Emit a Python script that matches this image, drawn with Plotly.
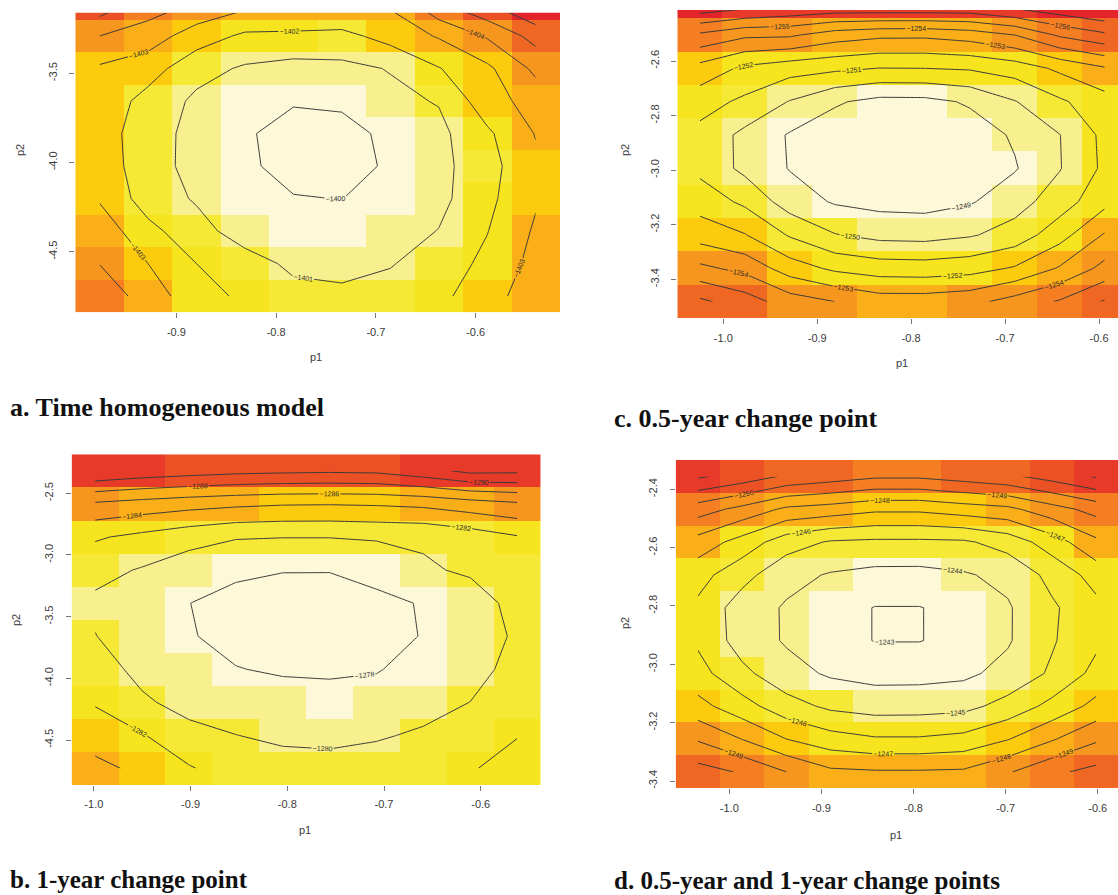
import plotly.graph_objects as go

W, H = 1118, 895

# R heat.colors(12) as they appear in the scanned figure (low -> high)
heat_cols = ["#E3242B", "#E83A28", "#EC5025", "#F06723", "#F47E21", "#F7961E",
             "#FAAF18", "#FDCB0E", "#F6E41E", "#F5E935", "#F8F08E", "#FCF8D8"]

# ---------------- panel a : time homogeneous model ----------------
a_p1 = [-0.9771, -0.9285, -0.8799, -0.8313, -0.7827, -0.7341, -0.6855, -0.6369, -0.5883, -0.5397]
a_p2 = [-4.7486, -4.5664, -4.3842, -4.2020, -4.0199, -3.8377, -3.6555, -3.4733, -3.2911, -3.1090]
a_z = [
    [-1404.60, -1403.58, -1402.35, -1401.83, -1401.30, -1401.20, -1401.40, -1401.75, -1402.61, -1403.54],
    [-1403.98, -1403.00, -1402.00, -1401.41, -1400.80, -1400.70, -1400.93, -1401.51, -1402.22, -1403.33],
    [-1403.60, -1402.30, -1401.36, -1400.54, -1400.30, -1400.30, -1400.55, -1401.03, -1401.97, -1403.13],
    [-1402.90, -1401.52, -1400.90, -1400.25, -1400.03, -1399.99, -1400.28, -1400.72, -1401.75, -1402.90],
    [-1402.55, -1401.45, -1400.65, -1400.10, -1399.80, -1399.75, -1400.09, -1400.70, -1401.64, -1402.80],
    [-1402.50, -1401.41, -1400.70, -1400.07, -1399.78, -1399.75, -1400.17, -1400.74, -1401.83, -1403.05],
    [-1402.65, -1401.65, -1400.81, -1400.25, -1400.05, -1400.13, -1400.77, -1401.06, -1402.58, -1403.40],
    [-1402.86, -1402.44, -1401.34, -1400.88, -1400.66, -1400.75, -1401.05, -1401.95, -1402.79, -1404.23],
    [-1404.00, -1403.50, -1402.50, -1401.82, -1401.80, -1401.70, -1402.38, -1403.09, -1404.11, -1405.36],
    [-1405.67, -1404.56, -1403.89, -1403.30, -1403.13, -1403.20, -1403.15, -1404.90, -1405.96, -1407.20],
]

# ---------------- panel b : 1-year change point ----------------
b_p1 = [-0.9987, -0.9502, -0.9017, -0.8532, -0.8047, -0.7562, -0.7077, -0.6592, -0.6107, -0.5622]
b_p2 = [-4.7308, -4.4627, -4.1946, -3.9265, -3.6584, -3.3903, -3.1222, -2.8541, -2.5860, -2.3179]
b_z = [
    [-1284.60, -1283.50, -1282.18, -1281.00, -1280.81, -1280.86, -1280.90, -1281.20, -1281.90, -1282.50],
    [-1283.00, -1282.15, -1280.55, -1280.03, -1279.60, -1279.40, -1279.80, -1280.27, -1281.20, -1281.95],
    [-1281.85, -1280.27, -1279.40, -1278.90, -1278.71, -1278.58, -1278.65, -1279.30, -1280.02, -1281.10],
    [-1280.80, -1279.50, -1278.90, -1278.06, -1277.80, -1277.75, -1277.90, -1278.58, -1279.30, -1280.65],
    [-1280.05, -1278.90, -1278.12, -1277.50, -1277.35, -1277.30, -1277.55, -1278.06, -1279.00, -1280.27],
    [-1279.63, -1278.90, -1278.02, -1277.50, -1277.45, -1277.40, -1277.60, -1278.11, -1279.00, -1280.67],
    [-1280.59, -1279.85, -1278.92, -1278.30, -1278.05, -1278.05, -1278.55, -1279.73, -1280.30, -1281.00],
    [-1282.23, -1281.50, -1280.75, -1280.14, -1280.05, -1280.05, -1280.20, -1280.28, -1280.93, -1281.85],
    [-1285.70, -1285.20, -1284.75, -1284.40, -1284.15, -1284.10, -1284.20, -1284.45, -1285.10, -1285.70],
    [-1291.90, -1291.30, -1290.90, -1290.56, -1290.40, -1290.30, -1290.40, -1291.30, -1292.50, -1292.40],
]

# ---------------- panel c : 0.5-year change point ----------------
c_p1 = [-1.0250, -0.9771, -0.9292, -0.8813, -0.8334, -0.7855, -0.7376, -0.6897, -0.6418, -0.5939]
c_p2 = [-3.4818, -3.3597, -3.2375, -3.1154, -2.9932, -2.8711, -2.7490, -2.6268, -2.5047, -2.3825]
c_z = [
    [-1256.20, -1255.50, -1254.50, -1254.00, -1253.50, -1253.50, -1253.70, -1254.40, -1255.10, -1256.10],
    [-1254.23, -1253.70, -1252.50, -1251.80, -1251.50, -1251.45, -1251.60, -1252.10, -1253.10, -1254.30],
    [-1252.56, -1252.05, -1250.90, -1250.05, -1249.70, -1249.65, -1249.90, -1250.40, -1251.60, -1253.10],
    [-1251.57, -1250.80, -1249.50, -1248.90, -1248.70, -1248.65, -1248.90, -1249.60, -1250.50, -1251.70],
    [-1250.75, -1249.75, -1248.95, -1248.40, -1248.25, -1248.22, -1248.45, -1248.92, -1249.95, -1251.20],
    [-1250.70, -1249.75, -1248.91, -1248.45, -1248.30, -1248.25, -1248.50, -1249.12, -1249.98, -1251.25],
    [-1251.41, -1250.80, -1249.95, -1249.12, -1248.70, -1248.72, -1249.12, -1249.95, -1250.85, -1251.60],
    [-1252.64, -1251.80, -1251.40, -1251.20, -1250.98, -1251.00, -1251.10, -1251.45, -1252.20, -1252.90],
    [-1254.80, -1254.20, -1254.15, -1253.50, -1253.22, -1253.20, -1253.45, -1254.00, -1255.15, -1255.80],
    [-1258.20, -1257.80, -1257.40, -1257.30, -1257.40, -1257.40, -1257.35, -1257.80, -1258.20, -1258.70],
]

# ---------------- panel d : 0.5-year and 1-year change points ----------------
d_p1 = [-1.0342, -0.9861, -0.9380, -0.8900, -0.8419, -0.7938, -0.7458, -0.6977, -0.6496, -0.6016]
d_p2 = [-3.3687, -3.2562, -3.1436, -3.0311, -2.9185, -2.8060, -2.6935, -2.5809, -2.4684, -2.3558]
d_z = [
    [-1250.40, -1249.90, -1249.00, -1248.20, -1248.10, -1248.10, -1248.15, -1248.90, -1249.80, -1250.30],
    [-1248.90, -1247.98, -1247.00, -1246.40, -1246.10, -1246.10, -1246.30, -1246.95, -1247.90, -1248.85],
    [-1247.33, -1246.40, -1245.40, -1244.80, -1244.58, -1244.60, -1244.70, -1245.35, -1246.30, -1247.30],
    [-1246.36, -1245.25, -1244.35, -1243.87, -1243.67, -1243.68, -1243.80, -1244.30, -1245.15, -1246.30],
    [-1245.85, -1244.55, -1243.90, -1243.40, -1242.97, -1242.97, -1243.27, -1243.90, -1244.90, -1245.80],
    [-1245.80, -1244.50, -1243.90, -1243.40, -1242.97, -1242.97, -1243.27, -1243.90, -1244.85, -1245.73],
    [-1246.37, -1245.35, -1244.30, -1243.92, -1243.73, -1243.72, -1243.90, -1244.25, -1245.30, -1246.40],
    [-1247.60, -1246.60, -1245.45, -1244.90, -1244.80, -1244.80, -1244.85, -1245.40, -1246.50, -1247.80],
    [-1249.47, -1248.70, -1247.80, -1247.55, -1247.20, -1247.20, -1247.50, -1247.75, -1248.60, -1249.35],
    [-1252.15, -1251.60, -1250.85, -1250.50, -1250.15, -1250.15, -1250.45, -1250.80, -1251.40, -1252.10],
]

captions = ["a. Time homogeneous model", "b. 1-year change point",
            "c. 0.5-year change point", "d. 0.5-year and 1-year change points"]

panels = [
    dict(p1=a_p1, p2=a_p2, z=a_z, zr=(-1407.55, -1399.75), lev=(-1407, -1400, 1),
         xr=(-1.00137, -0.51537), yr=(-4.8397, -3.1603), box=(75.3, 560.0, 12.7, 312.3),
         xt=[-0.9, -0.8, -0.7, -0.6], yt=[-4.5, -4.0, -3.5],
         p1lab=(316, 357), p2lab=(20, 150), cap=(8, 408, captions[0], 26)),
    dict(p1=b_p1, p2=b_p2, z=b_z, zr=(-1294.0, -1277.2), lev=(-1292, -1278, 2),
         xr=(-1.0230, -0.5380), yr=(-4.8648, -2.1838), box=(71.6, 540.7, 454.3, 785.0),
         xt=[-1.0, -0.9, -0.8, -0.7, -0.6], yt=[-4.5, -4.0, -3.5, -3.0, -2.5],
         p1lab=(305, 830), p2lab=(16, 620), cap=(8, 879, captions[1], 25)),
    dict(p1=c_p1, p2=c_p2, z=c_z, zr=(-1259.0, -1248.2), lev=(-1259, -1249, 1),
         xr=(-1.0490, -0.5798), yr=(-3.5429, -2.4131), box=(677.3, 1118.0, 10.0, 318.3),
         xt=[-1.0, -0.9, -0.8, -0.7, -0.6], yt=[-3.4, -3.2, -3.0, -2.8, -2.6],
         p1lab=(902, 363), p2lab=(625, 150), cap=(612, 418, captions[2], 26)),
    dict(p1=d_p1, p2=d_p2, z=d_z, zr=(-1253.9, -1242.97), lev=(-1253, -1243, 1),
         xr=(-1.0582, -0.5780), yr=(-3.4250, -2.2996), box=(675.7, 1118.0, 460.0, 788.3),
         xt=[-1.0, -0.9, -0.8, -0.7, -0.6], yt=[-3.4, -3.2, -3.0, -2.8, -2.6, -2.4],
         p1lab=(896, 835), p2lab=(625, 623), cap=(612, 880, captions[3], 25)),
]

n = len(heat_cols)
colorscale = []
for i, c in enumerate(heat_cols):
    colorscale.append([i / n, c])
    colorscale.append([(i + 1) / n, c])

fig = go.Figure()
tickfont = dict(family="Liberation Sans, Arial, sans-serif", size=11, color="#3a3a3a")
annotations = []
layout_axes = {}

for i, P in enumerate(panels, start=1):
    xs = "x" if i == 1 else f"x{i}"
    ys = "y" if i == 1 else f"y{i}"
    fig.add_trace(go.Heatmap(x=P["p1"], y=P["p2"], z=P["z"], xaxis=xs, yaxis=ys,
                             colorscale=colorscale, zmin=P["zr"][0], zmax=P["zr"][1],
                             showscale=False, hoverinfo="skip"))
    fig.add_trace(go.Contour(x=P["p1"], y=P["p2"], z=P["z"], xaxis=xs, yaxis=ys,
                             contours=dict(coloring="none", start=P["lev"][0], end=P["lev"][1],
                                           size=P["lev"][2], showlabels=True,
                                           labelfont=dict(size=7, color="#2a2a2a",
                                                          family="Liberation Sans, Arial")),
                             line=dict(color="#3b3b3b", width=1, smoothing=0),
                             showscale=False, hoverinfo="skip"))
    x0, x1, y0, y1 = P["box"]
    xa = "xaxis" if i == 1 else f"xaxis{i}"
    ya = "yaxis" if i == 1 else f"yaxis{i}"
    layout_axes[xa] = dict(domain=[x0 / W, x1 / W], anchor=ys, range=list(P["xr"]),
                           tickvals=P["xt"], ticktext=[f"{v:.1f}" for v in P["xt"]],
                           ticks="outside", ticklen=5, tickcolor="#777", tickwidth=1,
                           showgrid=False, zeroline=False, showline=False,
                           tickfont=tickfont, ticklabelstandoff=4, fixedrange=True)
    layout_axes[ya] = dict(domain=[1 - y1 / H, 1 - y0 / H], anchor=xs, range=list(P["yr"]),
                           tickvals=P["yt"], ticktext=[f"{v:.1f}" for v in P["yt"]],
                           ticks="outside", ticklen=5, tickcolor="#777", tickwidth=1,
                           tickangle=-90, showgrid=False, zeroline=False, showline=False,
                           tickfont=tickfont, ticklabelstandoff=8, fixedrange=True)
    annotations.append(dict(x=P["p1lab"][0] / W, y=1 - P["p1lab"][1] / H, xref="paper", yref="paper",
                            text="p1", showarrow=False, font=tickfont,
                            xanchor="center", yanchor="middle"))
    annotations.append(dict(x=P["p2lab"][0] / W, y=1 - P["p2lab"][1] / H, xref="paper", yref="paper",
                            text="p2", showarrow=False, font=tickfont, textangle=-90,
                            xanchor="center", yanchor="middle"))
    cx, cy, ct, cs = P["cap"]
    annotations.append(dict(x=cx / W, y=1 - cy / H, xref="paper", yref="paper",
                            text=f"<b>{ct}</b>", showarrow=False,
                            font=dict(family="Liberation Serif, Times New Roman, serif",
                                      size=cs, color="#111"),
                            xanchor="left", yanchor="middle"))

fig.update_layout(width=W, height=H, margin=dict(l=0, r=0, t=0, b=0),
                  paper_bgcolor="white", plot_bgcolor="white", showlegend=False,
                  annotations=annotations, **layout_axes)

fig.write_html("out.html")
